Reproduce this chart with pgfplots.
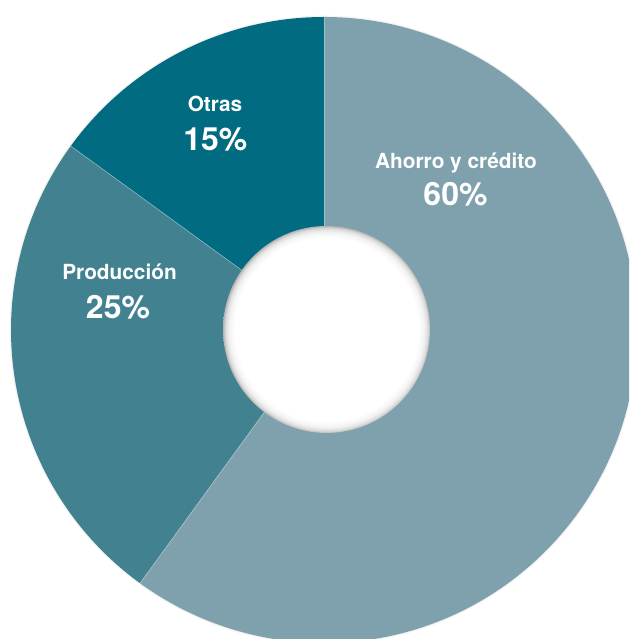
\documentclass[border=0pt]{standalone}
\usepackage{fontspec}
\setmainfont{TeX Gyre Heros}
\usepackage{pgfplots}
\usepackage{pgfplotstable}
\pgfplotsset{compat=1.18}

\definecolor{ahorro}{HTML}{7FA1AE}
\definecolor{produccion}{HTML}{42818F}
\definecolor{otras}{HTML}{006B81}

\pgfdeclareradialshading{holeshade}{\pgfpointorigin}{color(0bp)=(white); color(22.2bp)=(white); color(23.6bp)=(black!5); color(24.5bp)=(black!15); color(25bp)=(black!30); color(50bp)=(black!30)}

% shares in percent, clockwise from 12 o'clock
\pgfplotstableread{
value colour
60 ahorro
25 produccion
15 otras
}\piedata

\begin{document}
\begin{tikzpicture}
\begin{axis}[
    hide axis,
    x=1pt, y=1pt,
    xmin=0, xmax=629, ymin=0, ymax=639,
    scale only axis,
    clip=true,
]
\coordinate (bl) at (axis cs:0,0);
\coordinate (tr) at (axis cs:629,639);
% faint halo round the ring
\fill[black!5] (axis cs:324,309) circle[radius=314.3pt];
\pgfplotstablegetrowsof{\piedata}
\pgfmathtruncatemacro\N{\pgfplotsretval-1}
\def\angA{90}
\pgfplotsforeachungrouped \i in {0,...,\N}{
    \pgfplotstablegetelem{\i}{value}\of\piedata \let\v\pgfplotsretval
    \pgfplotstablegetelem{\i}{colour}\of\piedata \let\c\pgfplotsretval
    \pgfmathsetmacro\angB{\angA-3.6*\v}
    \edef\temp{\noexpand\fill[\c] (axis cs:324,309) -- ++(\angA:313pt)
        arc[start angle=\angA, end angle=\angB, radius=313pt] -- cycle;}
    \temp
    \edef\temp{\noexpand\draw[white, opacity=0.45, line width=0.6pt]
        (axis cs:324,309) -- ++(\angA:313pt);}
    \temp
    \let\angA\angB
}
% hole with its inner shadow
\shade[shading=holeshade] (axis cs:326.5,309.5) circle[radius=103.5pt];

\begin{scope}[every node/.style={text=white, font=\bfseries, anchor=base, inner sep=0pt}]
\node[font=\bfseries\fontsize{20.8}{24}\selectfont] at (axis cs:456,470.7) {Ahorro y crédito};
\node[font=\bfseries\fontsize{32}{36}\selectfont] at (axis cs:455.5,433.3) {60\%};
\node[font=\bfseries\fontsize{20.8}{24}\selectfont] at (axis cs:215,527.3) {Otras};
\node[font=\bfseries\fontsize{32}{36}\selectfont] at (axis cs:215.3,488.3) {15\%};
\node[font=\bfseries\fontsize{20.8}{24}\selectfont] at (axis cs:119.5,359) {Producción};
\node[font=\bfseries\fontsize{32}{36}\selectfont] at (axis cs:118,320.7) {25\%};
\end{scope}
\end{axis}
\pgfresetboundingbox
\useasboundingbox (bl) rectangle (tr);
\end{tikzpicture}
\end{document}
